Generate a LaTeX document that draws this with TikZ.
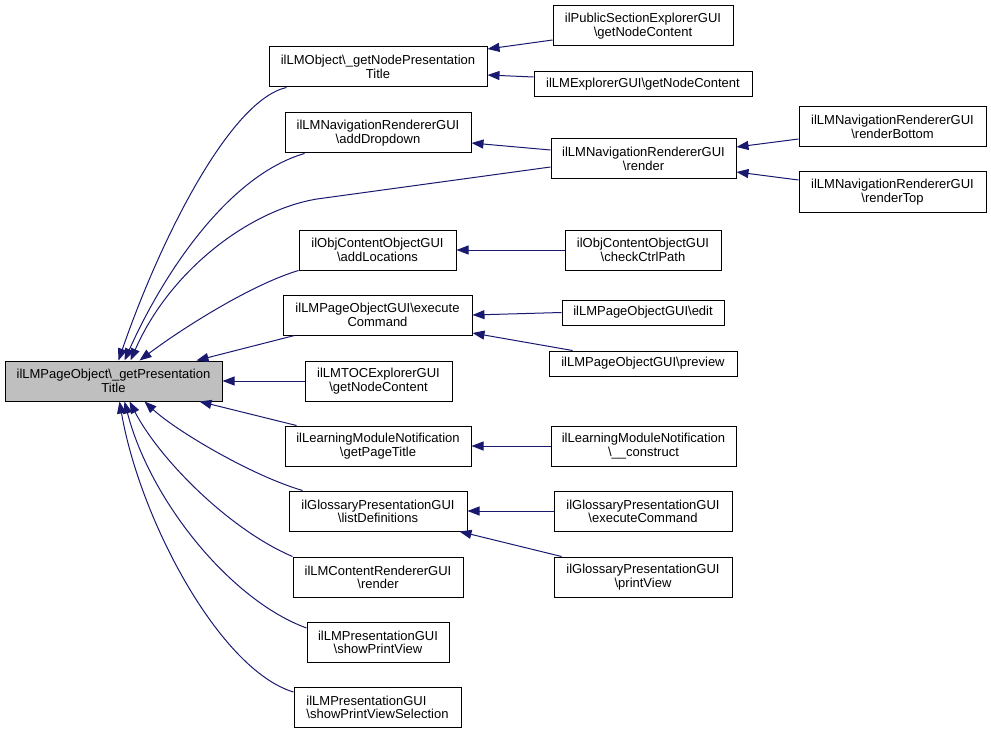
\documentclass[tikz,border=0pt]{standalone}
\usepackage{fontspec}
\setmainfont{Liberation Sans}
\usetikzlibrary{arrows.meta}
\definecolor{edgeblue}{HTML}{191970}
\definecolor{maingray}{HTML}{BFBFBF}
\tikzset{
  box/.style={draw=black, line width=1pt, fill=white, rectangle, inner sep=0pt,
    minimum height=40pt, align=center, font=\fontsize{13}{13.3}\selectfont, text=black},
  onebox/.style={box, minimum height=25pt},
  mainbox/.style={box, fill=maingray},
  edge/.style={draw=edgeblue, line width=1pt, {Triangle[length=12pt,width=9pt]}-}
}
\begin{document}
\begin{tikzpicture}[x=1pt,y=-1pt]
\useasboundingbox (0,0) rectangle (991,733);
% main
\node[mainbox, minimum width=217pt] (main) at (113.5,381) {ilLMPageObject\textbackslash\_getPresentation\\Title};
% level 1
\node[box, minimum width=218pt] (lmobj) at (378,67) {ilLMObject\textbackslash\_getNodePresentation\\Title};
\node[box, minimum width=186pt] (adddd) at (378,133) {ilLMNavigationRendererGUI\\\textbackslash addDropdown};
\node[box, minimum width=157pt] (addloc) at (377.5,250) {ilObjContentObjectGUI\\\textbackslash addLocations};
\node[box, minimum width=189pt] (execcmd) at (377.5,315) {ilLMPageObjectGUI\textbackslash execute\\Command};
\node[box, minimum width=147pt] (toc) at (378.5,381) {ilLMTOCExplorerGUI\\\textbackslash getNodeContent};
\node[box, minimum width=186pt] (pagetitle) at (378,446) {ilLearningModuleNotification\\\textbackslash getPageTitle};
\node[box, minimum width=178pt] (listdef) at (378,511) {ilGlossaryPresentationGUI\\\textbackslash listDefinitions};
\node[box, minimum width=170pt] (contrend) at (378,577) {ilLMContentRendererGUI\\\textbackslash render};
\node[box, minimum width=142pt] (showpv) at (378,642) {ilLMPresentationGUI\\\textbackslash showPrintView};
\node[box, minimum width=167pt, align=left] (showpvs) at (377.5,707) {ilLMPresentationGUI\\\textbackslash showPrintViewSelection};
% level 2
\node[box, minimum width=180pt] (pubsec) at (643,26) {ilPublicSectionExplorerGUI\\\textbackslash getNodeContent};
\node[onebox, minimum width=218pt] (lmexpl) at (643,84) {ilLMExplorerGUI\textbackslash getNodeContent};
\node[box, minimum width=185pt] (navrender) at (643.5,159) {ilLMNavigationRendererGUI\\\textbackslash render};
\node[box, minimum width=156pt] (checkctrl) at (643,250) {ilObjContentObjectGUI\\\textbackslash checkCtrlPath};
\node[onebox, minimum width=162pt] (edit) at (643,312.5) {ilLMPageObjectGUI\textbackslash edit};
\node[onebox, minimum width=188pt] (preview) at (643,363.5) {ilLMPageObjectGUI\textbackslash preview};
\node[box, minimum width=185pt] (construct) at (643.5,446) {ilLearningModuleNotification\\\textbackslash\_\_construct};
\node[box, minimum width=178pt] (glexec) at (643,511) {ilGlossaryPresentationGUI\\\textbackslash executeCommand};
\node[box, minimum width=178pt] (printview) at (643,577) {ilGlossaryPresentationGUI\\\textbackslash printView};
% level 3
\node[box, minimum width=187pt] (renderbottom) at (892.5,127) {ilLMNavigationRendererGUI\\\textbackslash renderBottom};
\node[box, minimum width=187pt] (rendertop) at (892.5,192) {ilLMNavigationRendererGUI\\\textbackslash renderTop};
% edges to main (top)
\draw[edge] ([xshift=114pt]main.north west) .. controls (160,240) and (230,100) .. ([xshift=18pt]lmobj.south west);
\draw[edge] ([xshift=120pt]main.north west) .. controls (165,270) and (230,175) .. ([xshift=20pt]adddd.south west);
\draw[edge] ([xshift=126pt]main.north west) .. controls (170,270) and (250,210) .. (317,199) -- ([yshift=-8pt]navrender.west);
\draw[edge] ([xshift=135pt]main.north west) .. controls (180,330) and (250,285) .. (addloc.south west);
\draw[edge] ([xshift=192pt]main.north west) -- ([xshift=12pt]execcmd.south west);
\draw[edge] (main.east) -- (toc.west);
% edges to main (bottom)
\draw[edge] ([xshift=195pt]main.south west) -- ([xshift=12pt]pagetitle.north west);
\draw[edge] ([xshift=140pt]main.south west) .. controls (175,430) and (250,475) .. ([xshift=14pt]listdef.north west);
\draw[edge] ([xshift=125pt]main.south west) .. controls (160,460) and (230,530) .. (contrend.north west);
\draw[edge] ([xshift=120pt]main.south west) .. controls (150,500) and (230,600) .. ([yshift=14pt]showpv.west);
\draw[edge] ([xshift=115pt]main.south west) .. controls (140,520) and (220,670) .. ([yshift=15pt]showpvs.west);
% level 2 edges
\draw[edge] ([yshift=18pt]lmobj.east) -- ([yshift=-14pt]pubsec.west);
\draw[edge] ([yshift=-8pt]lmobj.east) -- ([yshift=7pt]lmexpl.west);
\draw[edge] ([yshift=-10pt]adddd.east) -- ([yshift=9pt]navrender.west);
\draw[edge] ([yshift=12pt]navrender.east) -- ([yshift=-12pt]renderbottom.west);
\draw[edge] ([yshift=-13pt]navrender.east) -- ([yshift=12pt]rendertop.west);
\draw[edge] (addloc.east) -- (checkctrl.west);
\draw[edge] (execcmd.east) -- (edit.west);
\draw[edge] ([yshift=-18pt]execcmd.east) -- ([xshift=24pt]preview.north west);
\draw[edge] (pagetitle.east) -- (construct.west);
\draw[edge] (listdef.east) -- (glexec.west);
\draw[edge] ([xshift=-8pt]listdef.south east) -- ([xshift=8pt]printview.north west);
\end{tikzpicture}
\end{document}
